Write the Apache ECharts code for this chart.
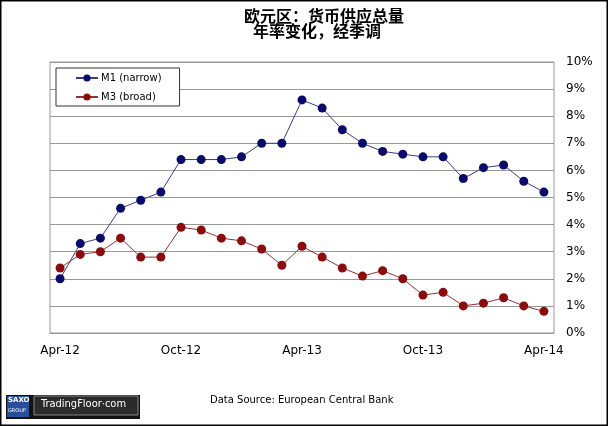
<!DOCTYPE html>
<html>
<head>
<meta charset="utf-8">
<script src="https://cdn.jsdelivr.net/npm/echarts@6/dist/echarts.min.js"></script>
<style>
    html, body { margin: 0; padding: 0; background: #fff; }
    #chart { width: 608px; height: 426px; }
</style>
</head>
<body>
<div id="chart"></div>
<script>
// 月份 (Apr-12 .. Apr-14)
const months = ['Apr-12', 'May-12', 'Jun-12', 'Jul-12', 'Aug-12', 'Sep-12', 'Oct-12', 'Nov-12', 'Dec-12',
    'Jan-13', 'Feb-13', 'Mar-13', 'Apr-13', 'May-13', 'Jun-13', 'Jul-13', 'Aug-13', 'Sep-13', 'Oct-13',
    'Nov-13', 'Dec-13', 'Jan-14', 'Feb-14', 'Mar-14', 'Apr-14'];
// 年率变化 (%)
const m1Values = [2.0, 3.3, 3.5, 4.6, 4.9, 5.2, 6.4, 6.4, 6.4, 6.5, 7.0, 7.0, 8.6, 8.3, 7.5, 7.0, 6.7, 6.6, 6.5, 6.5, 5.7, 6.1, 6.2, 5.6, 5.2];
const m3Values = [2.4, 2.9, 3.0, 3.5, 2.8, 2.8, 3.9, 3.8, 3.5, 3.4, 3.1, 2.5, 3.2, 2.8, 2.4, 2.1, 2.3, 2.0, 1.4, 1.5, 1.0, 1.1, 1.3, 1.0, 0.8];
const titleLines = ['欧元区：货币供应总量', '年率变化，经季调'];
const sourceText = 'Data Source: European Central Bank';

const titleStyle = {
    fontFamily: 'Noto Sans CJK SC',
    fontWeight: 'bold',
    fontSize: 16,
    color: '#000'
};

const chart = echarts.init(document.getElementById('chart'));
chart.setOption({
    animation: false,
    textStyle: { fontFamily: 'DejaVu Sans' },
    title: [
        { text: titleLines[0], left: 244, top: 8, padding: 0, textStyle: titleStyle },
        { text: titleLines[1], left: 253, top: 23, padding: 0, textStyle: titleStyle }
    ],
    legend: {
        orient: 'vertical',
        left: 56,
        top: 68,
        padding: [5, 18, 4, 19],
        itemGap: 9,
        itemWidth: 22,
        itemHeight: 9,
        borderColor: '#333',
        borderWidth: 1,
        backgroundColor: '#fff',
        textStyle: { fontSize: 10, color: '#000', fontFamily: 'DejaVu Sans', padding: [0, 0, 0, -2] },
        data: ['M1 (narrow)', 'M3 (broad)']
    },
    grid: {
        left: 50,
        right: 54,
        top: 62,
        bottom: 93,
        show: true,
        borderColor: '#999',
        borderWidth: 1
    },
    xAxis: {
        type: 'category',
        boundaryGap: true,
        data: months,
        axisLine: { lineStyle: { color: '#999' } },
        axisTick: { show: false },
        axisLabel: {
            interval: 5,
            color: '#000',
            fontSize: 12,
            margin: 12
        }
    },
    yAxis: {
        type: 'value',
        position: 'right',
        min: 0,
        max: 10,
        interval: 1,
        axisLine: { show: false },
        axisTick: { show: false },
        axisLabel: {
            formatter: '{value}%',
            color: '#000',
            fontSize: 12,
            margin: 12
        },
        splitLine: { lineStyle: { color: '#999', width: 1 } }
    },
    series: [
        {
            name: 'M1 (narrow)',
            type: 'line',
            data: m1Values,
            symbol: 'circle',
            symbolSize: 9,
            itemStyle: { color: '#0b0b6b' },
            lineStyle: { width: 1, color: '#3a3a8a' }
        },
        {
            name: 'M3 (broad)',
            type: 'line',
            data: m3Values,
            symbol: 'circle',
            symbolSize: 9,
            itemStyle: { color: '#8a0c0c' },
            lineStyle: { width: 1, color: '#9a3030' }
        }
    ],
    graphic: [
        {
            type: 'rect',
            shape: { x: 0.5, y: 0.5, width: 607, height: 425 },
            style: { fill: 'none', stroke: '#000', lineWidth: 2 },
            silent: true
        },
        // 底部标识
        {
            type: 'rect',
            shape: { x: 6, y: 395, width: 134, height: 24 },
            style: { fill: '#111' }
        },
        {
            type: 'rect',
            shape: { x: 7, y: 396, width: 22, height: 21 },
            style: { fill: '#2a4f9a' }
        },
        {
            type: 'text',
            x: 8, y: 397,
            style: { text: 'SAXO', fill: '#fff', font: 'bold 7px DejaVu Sans' }
        },
        {
            type: 'text',
            x: 8, y: 408,
            style: { text: 'GROUP', fill: '#fff', font: '5px DejaVu Sans' }
        },
        {
            type: 'rect',
            shape: { x: 34, y: 396, width: 104, height: 19 },
            style: { fill: '#2b2b2b', stroke: '#888', lineWidth: 1 }
        },
        {
            type: 'text',
            x: 41, y: 399,
            style: { text: 'TradingFloor·com', fill: '#fff', font: '11px "DejaVu Sans Condensed"' }
        },
        {
            type: 'text',
            x: 210, y: 395,
            style: { text: sourceText, fill: '#000', font: '10px DejaVu Sans' }
        }
    ]
});

window.addEventListener('resize', () => {
    chart.resize();
});
</script>
</body>
</html>
